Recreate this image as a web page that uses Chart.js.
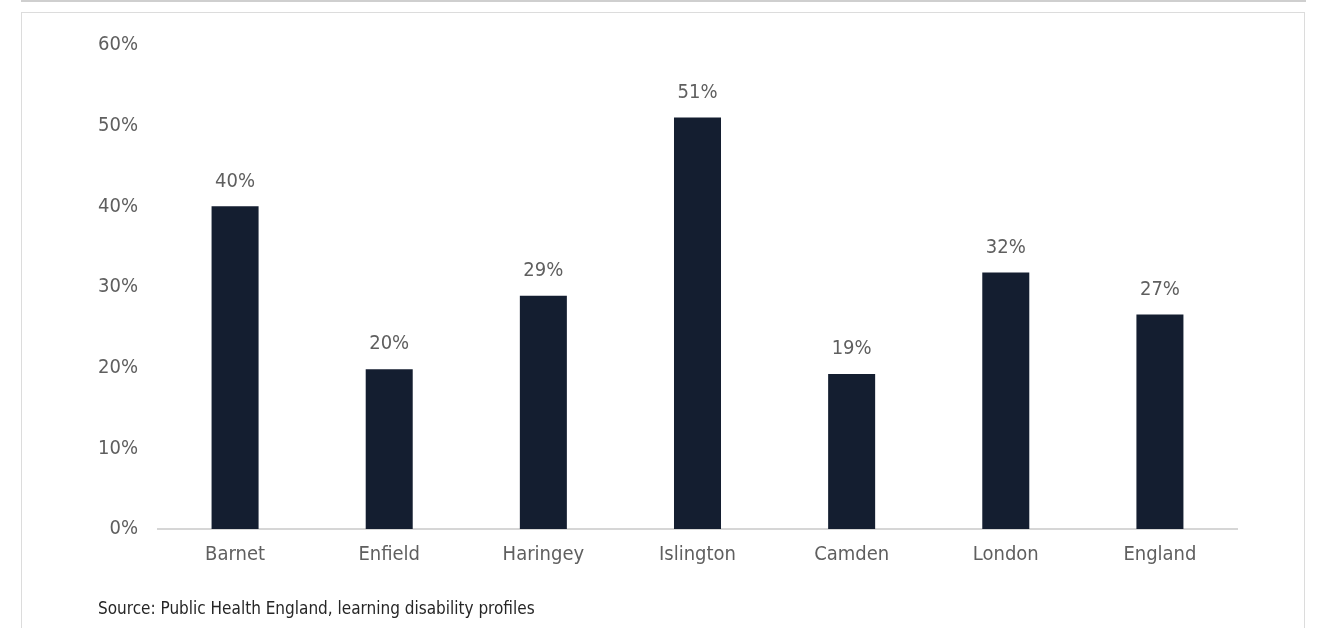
<!DOCTYPE html>
<html>
<head>
<meta charset="utf-8">
<script src="https://cdn.jsdelivr.net/npm/chart.js@4.4.0/dist/chart.umd.min.js"></script>
<style>
  html, body { margin: 0; padding: 0; background: #ffffff; }
  #wrap { position: relative; width: 1319px; height: 628px; overflow: hidden; }
  #topbar { position: absolute; left: 21px; top: 0; width: 1285px; height: 2px; background: #cfcfcf; }
  #box { position: absolute; left: 21px; top: 12px; width: 1284px; height: 640px; border: 1px solid #dcdcdc; box-sizing: border-box; }
  #c { position: absolute; left: 0; top: 0; }
  #src { position: absolute; left: 98px; top: 598px; font-family: 'Liberation Sans Narrow', 'DejaVu Sans Condensed', sans-serif; font-size: 17px; color: #262626; white-space: nowrap; }
</style>
</head>
<body>
<div id="wrap">
  <div id="topbar"></div>
  <div id="box"></div>
  <canvas id="c" width="1319" height="628"></canvas>
  <div id="src">Source: Public Health England, learning disability profiles</div>
</div>
<script>
const categories = ['Barnet', 'Enfield', 'Haringey', 'Islington', 'Camden', 'London', 'England'];
const values = [40.0, 19.8, 28.9, 51.0, 19.2, 31.8, 26.6];
const yTicks = [0, 10, 20, 30, 40, 50, 60];

const FONT = "'Liberation Sans Narrow', 'DejaVu Sans Condensed', sans-serif";
const TEXT = '#5f5f5f';

const valueLabels = {
  id: 'valueLabels',
  afterDatasetsDraw(chart) {
    const ctx = chart.ctx;
    const meta = chart.getDatasetMeta(0);
    ctx.save();
    ctx.font = '20px ' + FONT;
    ctx.fillStyle = TEXT;
    ctx.textAlign = 'center';
    ctx.textBaseline = 'bottom';
    meta.data.forEach((bar, i) => {
      ctx.fillText(Math.round(values[i]) + '%', bar.x, bar.y - 15);
    });
    ctx.restore();
  }
};

new Chart(document.getElementById('c'), {
  type: 'bar',
  data: {
    labels: categories,
    datasets: [{
      data: values,
      backgroundColor: '#141e30',
      borderWidth: 0,
      barPercentage: 0.61,
      categoryPercentage: 0.5
    }]
  },
  options: {
    responsive: false,
    animation: false,
    devicePixelRatio: 1,
    layout: { padding: { left: 0, right: 82, top: 45, bottom: 0 } },
    plugins: { legend: { display: false }, tooltip: { enabled: false } },
    scales: {
      x: {
        grid: { display: false, drawTicks: false },
        border: { display: true, color: '#d6d6d6', width: 2 },
        ticks: { color: TEXT, font: { family: FONT, size: 20 }, padding: 14 },
        afterFit(s) { s.height = 99; }
      },
      y: {
        min: 0, max: 60,
        afterBuildTicks(s) { s.ticks = yTicks.map(v => ({ value: v })); },
        grid: { display: false, drawTicks: false },
        border: { display: false },
        ticks: { color: TEXT, font: { family: FONT, size: 20 }, padding: 20, callback: v => v + '%' },
        afterFit(s) { s.width = 158; }
      }
    }
  },
  plugins: [valueLabels]
});
</script>
</body>
</html>
